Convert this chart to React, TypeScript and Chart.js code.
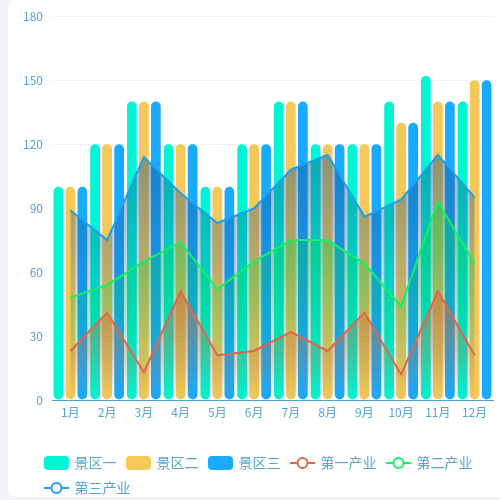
import React, { useEffect, useRef } from "react";
import { Chart, registerables } from "chart.js";

Chart.register(...registerables);

// ---- data ----
const months = ["1月", "2月", "3月", "4月", "5月", "6月", "7月", "8月", "9月", "10月", "11月", "12月"];
const scenic1 = [100, 120, 140, 120, 100, 120, 140, 120, 120, 140, 152, 140];
const scenic2 = [100, 120, 140, 120, 100, 120, 140, 120, 120, 130, 140, 150];
const scenic3 = [100, 120, 140, 120, 100, 120, 140, 120, 120, 130, 140, 150];
const industry1 = [23, 41, 13, 51, 21, 23, 32, 23, 41, 12, 51, 21];
const industry2 = [48, 54, 65, 74, 52, 65, 75, 75, 64, 44, 93, 64];
const industry3 = [89, 75, 114, 97, 83, 90, 108, 115, 86, 94, 115, 95];
const yMin = 0;
const yMax = 180;
const yStep = 30;

const FONT = "'Noto Sans CJK SC', 'Noto Sans', sans-serif";
const TEXT = "#55a4d2";

const CYAN = "#00f5d4";
const YELLOW = "#f4c95a";
const BLUE = "#1aaaff";
const RED = "#e2664f";
const GREEN = "#12f064";
const LBLUE = "#1e9ff0";

function rectIcon(color: string) {
  const c = document.createElement("canvas");
  c.width = 25;
  c.height = 14;
  const g = c.getContext("2d")!;
  g.fillStyle = color;
  g.beginPath();
  (g as any).roundRect(0, 0, 25, 14, 4);
  g.fill();
  return c;
}

function lineIcon(color: string) {
  const c = document.createElement("canvas");
  c.width = 25;
  c.height = 14;
  const g = c.getContext("2d")!;
  g.strokeStyle = color;
  g.lineWidth = 2;
  g.beginPath();
  g.moveTo(0, 7);
  g.lineTo(25, 7);
  g.stroke();
  g.beginPath();
  g.arc(12.5, 7, 5, 0, Math.PI * 2);
  g.fillStyle = "#fff";
  g.fill();
  g.stroke();
  return c;
}

function areaFill(rgb: string, alpha: number, data: number[]) {
  return (ctx: any) => {
    const chart = ctx.chart;
    const area = chart.chartArea;
    if (!area) return `rgba(${rgb},0)`;
    const top = chart.scales.y.getPixelForValue(Math.max(...data));
    const grad = chart.ctx.createLinearGradient(0, top, 0, area.bottom);
    grad.addColorStop(0, `rgba(${rgb},${alpha})`);
    grad.addColorStop(1, `rgba(${rgb},0)`);
    return grad;
  };
}

const legendShift = {
  id: "legendShift",
  afterLayout(chart: any) {
    if (chart.legend) chart.legend.left += 26.5;
  },
};

export default function App() {
  const ref = useRef<HTMLCanvasElement | null>(null);

  useEffect(() => {
    if (!ref.current) return;
    const icons = [
      rectIcon(CYAN),
      rectIcon(YELLOW),
      rectIcon(BLUE),
      lineIcon(RED),
      lineIcon(GREEN),
      lineIcon(LBLUE),
    ];
    const barCommon = {
      type: "bar" as const,
      borderRadius: 5,
      borderSkipped: false,
      barPercentage: 0.81,
      categoryPercentage: 0.98,
      order: 3,
    };
    const lineCommon = {
      type: "line" as const,
      fill: "origin",
      tension: 0,
      pointRadius: 0,
      pointHoverRadius: 0,
      borderWidth: 2,
    };
    const chart = new Chart(ref.current, {
      type: "bar",
      data: {
        labels: months,
        datasets: [
          { ...barCommon, label: "景区一", data: scenic1, backgroundColor: CYAN },
          { ...barCommon, label: "景区二", data: scenic2, backgroundColor: YELLOW },
          { ...barCommon, label: "景区三", data: scenic3, backgroundColor: BLUE },
          {
            ...lineCommon,
            label: "第一产业",
            data: industry1,
            borderColor: RED,
            backgroundColor: areaFill("228,100,60", 0.55, industry1),
            order: 0,
          },
          {
            ...lineCommon,
            label: "第二产业",
            data: industry2,
            borderColor: GREEN,
            backgroundColor: areaFill("0,220,70", 0.42, industry2),
            order: 1,
          },
          {
            ...lineCommon,
            label: "第三产业",
            data: industry3,
            borderColor: LBLUE,
            backgroundColor: areaFill("20,80,140", 0.45, industry3),
            order: 2,
          },
        ] as any,
      },
      options: {
        responsive: false,
        animation: false,
        layout: { padding: { left: 0, right: 0, top: 15, bottom: 0 } },
        plugins: {
          tooltip: { enabled: false },
          legend: {
            position: "bottom",
            align: "start",
            labels: {
              usePointStyle: true,
              pointStyleWidth: 22,
              boxHeight: 14,
              padding: 11,
              color: TEXT,
              font: { family: FONT, size: 14 },
              sort: (a: any, b: any) => a.datasetIndex - b.datasetIndex,
              generateLabels: (c: any) =>
                (Chart.defaults.plugins.legend.labels.generateLabels as any)(c).map(
                  (item: any) => ({ ...item, pointStyle: icons[item.datasetIndex], fontColor: TEXT })
                ),
            },
          },
        },
        scales: {
          x: {
            grid: { display: false, drawTicks: false },
            border: { display: true, color: "#4fa0d0", width: 1 },
            ticks: { color: TEXT, padding: 5, font: { family: FONT, size: 12 } },
            afterFit: (axis: any) => {
              axis.height = 45;
            },
          },
          y: {
            min: yMin,
            max: yMax,
            ticks: { stepSize: yStep, color: TEXT, padding: 9, font: { family: FONT, size: 12 } },
            grid: { color: "#f3f4f6", drawTicks: false },
            border: { display: false },
            afterFit: (axis: any) => {
              axis.width = 44;
            },
          },
          yr: {
            position: "right",
            display: true,
            grid: { display: false, drawTicks: false },
            border: { display: false },
            ticks: { display: false },
            afterFit: (axis: any) => {
              axis.width = 15;
            },
          },
        },
      } as any,
      plugins: [legendShift],
    });
    return () => chart.destroy();
  }, []);

  return (
    <div
      style={{
        position: "fixed",
        left: 0,
        top: 0,
        width: 500,
        height: 500,
        overflow: "hidden",
        background: "#f2f3f8",
      }}
    >
      <div
        style={{
          position: "absolute",
          left: 8,
          top: 0,
          width: 520,
          height: 497,
          background: "#ffffff",
          borderRadius: 6,
        }}
      />
      <canvas
        ref={ref}
        width={500}
        height={505}
        style={{ position: "absolute", left: 8, top: 0 }}
      />
    </div>
  );
}
